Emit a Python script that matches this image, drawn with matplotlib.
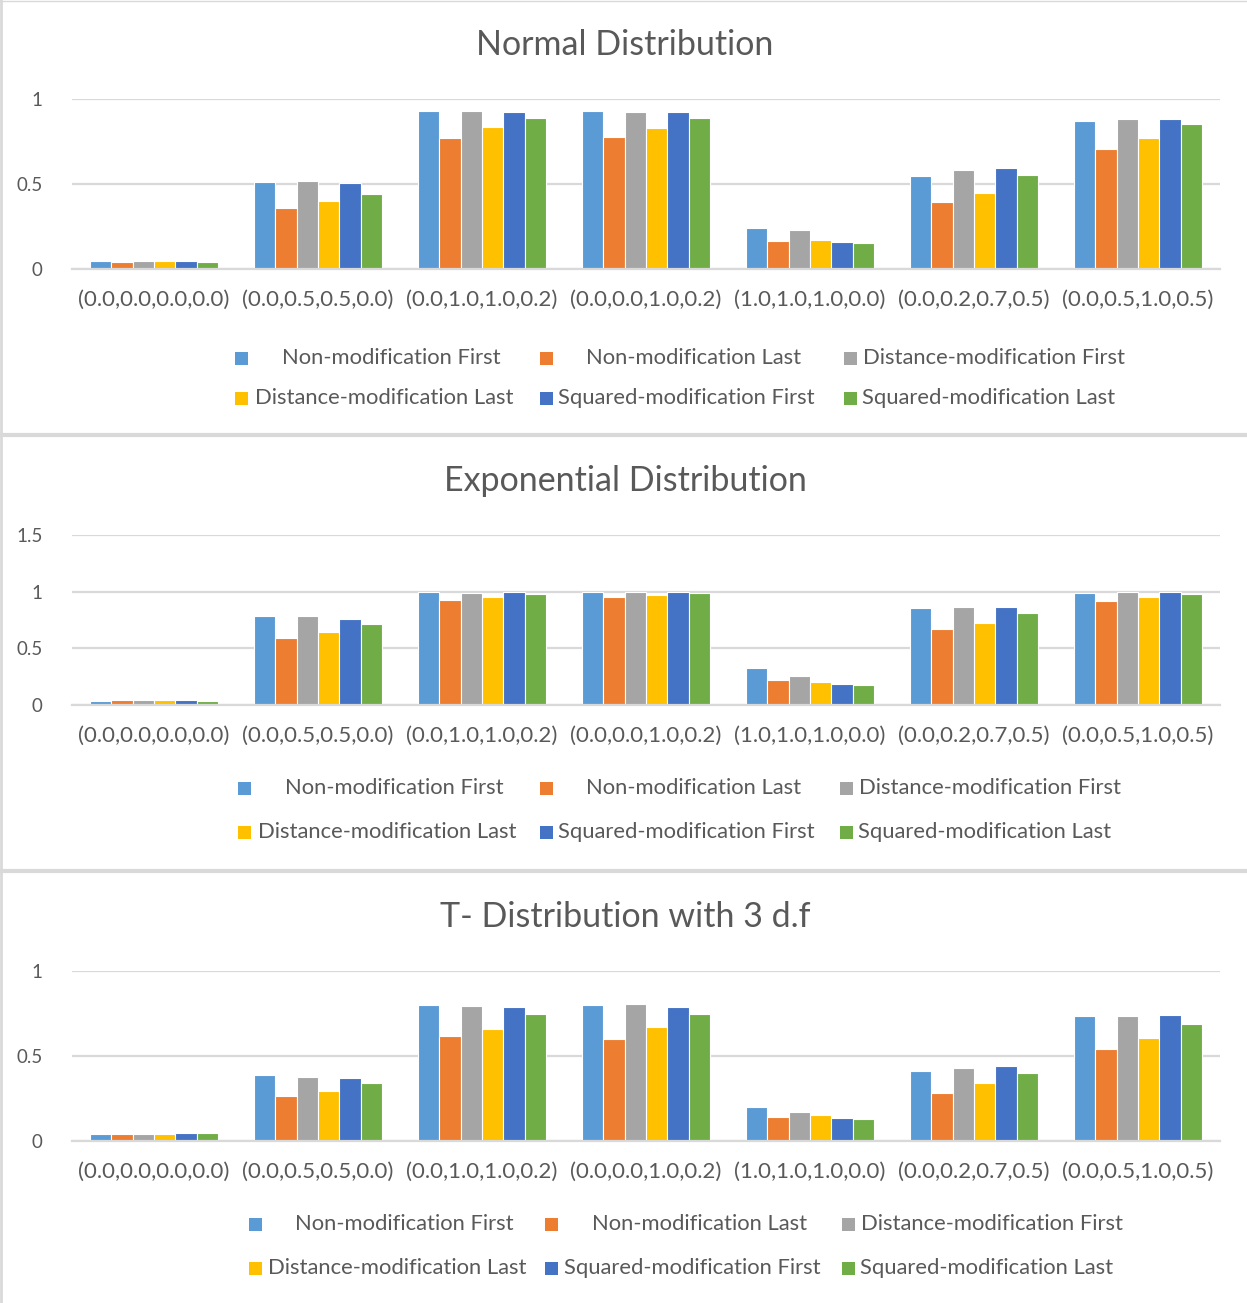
import matplotlib
matplotlib.use("Agg")
import matplotlib.pyplot as plt
from matplotlib.patches import Rectangle
from matplotlib.lines import Line2D
import numpy as np

plt.rcParams['font.family'] = ['Lato', 'DejaVu Sans']

categories = ["(0.0,0.0,0.0,0.0)", "(0.0,0.5,0.5,0.0)", "(0.0,1.0,1.0,0.2)",
              "(0.0,0.0,1.0,0.2)", "(1.0,1.0,1.0,0.0)", "(0.0,0.2,0.7,0.5)",
              "(0.0,0.5,1.0,0.5)"]

series_names = ["Non-modification First", "Non-modification Last",
                "Distance-modification First", "Distance-modification Last",
                "Squared-modification First", "Squared-modification Last"]

# Normal distribution, one list per series
normal_non_first = [0.047, 0.510, 0.928, 0.928, 0.244, 0.545, 0.869]
normal_non_last = [0.043, 0.360, 0.770, 0.775, 0.166, 0.395, 0.705]
normal_dist_first = [0.049, 0.518, 0.926, 0.922, 0.229, 0.582, 0.883]
normal_dist_last = [0.047, 0.400, 0.834, 0.828, 0.174, 0.449, 0.770]
normal_sq_first = [0.049, 0.504, 0.922, 0.920, 0.160, 0.592, 0.879]
normal_sq_last = [0.043, 0.443, 0.887, 0.889, 0.152, 0.553, 0.850]

# Exponential distribution
expo_non_first = [0.041, 0.783, 0.994, 1.000, 0.326, 0.853, 0.988]
expo_non_last = [0.047, 0.592, 0.927, 0.950, 0.223, 0.672, 0.921]
expo_dist_first = [0.047, 0.783, 0.991, 1.000, 0.258, 0.865, 0.997]
expo_dist_last = [0.047, 0.645, 0.953, 0.971, 0.202, 0.721, 0.953]
expo_sq_first = [0.047, 0.760, 0.994, 0.994, 0.188, 0.865, 0.994]
expo_sq_last = [0.041, 0.718, 0.977, 0.991, 0.179, 0.815, 0.977]

# T distribution with 3 degrees of freedom
t3_non_first = [0.045, 0.391, 0.799, 0.801, 0.203, 0.412, 0.732]
t3_non_last = [0.041, 0.268, 0.619, 0.600, 0.141, 0.281, 0.541]
t3_dist_first = [0.045, 0.377, 0.791, 0.805, 0.172, 0.428, 0.736]
t3_dist_last = [0.043, 0.295, 0.658, 0.672, 0.156, 0.342, 0.607]
t3_sq_first = [0.049, 0.371, 0.789, 0.785, 0.135, 0.443, 0.742]
t3_sq_last = [0.051, 0.344, 0.746, 0.744, 0.133, 0.402, 0.689]

titles = ["Normal Distribution", "Exponential Distribution", "T- Distribution with 3 d.f"]
panels = [
    [normal_non_first, normal_non_last, normal_dist_first, normal_dist_last, normal_sq_first, normal_sq_last],
    [expo_non_first, expo_non_last, expo_dist_first, expo_dist_last, expo_sq_first, expo_sq_last],
    [t3_non_first, t3_non_last, t3_dist_first, t3_dist_last, t3_sq_first, t3_sq_last],
]
y_max = [1.0, 1.5, 1.0]
y_ticks = [[0, 0.5, 1], [0, 0.5, 1, 1.5], [0, 0.5, 1]]
y_tick_labels = [["0", "0.5", "1"], ["0", "0.5", "1", "1.5"], ["0", "0.5", "1"]]

colors = ["#5B9BD5", "#ED7D31", "#A5A5A5", "#FFC000", "#4472C4", "#70AD47"]
text_color = "#595959"
grid_color = "#D9D9D9"

W, H = 1247, 1303
fig = plt.figure(figsize=(W / 100, H / 100), dpi=100)
fig.patch.set_facecolor("white")


def fx(px):
    return px / W


def fy(py):
    return 1 - py / H


# pixel layout of each panel: (top of plot area, baseline, title y, category label y, legend rows)
layout = [
    dict(top=98.7, base=269.3, title=45, cat=300,
         rows=[(358, [(241, 282), (546, 586), (850, 863)]),
               (398, [(241, 255), (546, 558), (850, 862)])]),
    dict(top=534.7, base=705.3, title=481, cat=736,
         rows=[(788, [(244, 285), (546, 586), (846, 859)]),
               (832, [(244, 258), (546, 558), (846, 858)])]),
    dict(top=970.7, base=1141.3, title=917, cat=1172,
         rows=[(1224, [(255, 295), (551, 592), (848, 861)]),
               (1268, [(255, 268), (551, 564), (848, 860)])]),
]

x_left, x_right = 72, 1220
n_series = len(series_names)
group_w = 0.78
bar_w = group_w / n_series
x = np.arange(len(categories))

for k, (lay, series, title) in enumerate(zip(layout, panels, titles)):
    ax = fig.add_axes([fx(x_left), fy(lay["base"]), fx(x_right - x_left),
                       (lay["base"] - lay["top"]) / H])
    for j, vals in enumerate(series):
        ax.bar(x + (j - (n_series - 1) / 2) * bar_w, vals, width=bar_w,
               color=colors[j], edgecolor="white", linewidth=0.8, zorder=3)
    ax.set_xlim(-0.5, len(categories) - 0.5)
    ax.set_ylim(0, y_max[k])
    ax.set_yticks(y_ticks[k])
    ax.set_yticklabels(y_tick_labels[k])
    ax.yaxis.grid(True, color=grid_color, linewidth=1.6, zorder=0)
    ax.set_axisbelow(True)
    for s in ["top", "right", "left"]:
        ax.spines[s].set_visible(False)
    ax.spines["bottom"].set_color(grid_color)
    ax.spines["bottom"].set_linewidth(1.6)
    ax.spines["bottom"].set_zorder(4)
    ax.tick_params(axis="y", length=0, pad=21, labelsize=13.5, labelcolor=text_color)
    ax.tick_params(axis="x", length=0, labelbottom=False)
    for lbl in ax.get_yticklabels():
        lbl.set_clip_on(False)
    for i, c in enumerate(categories):
        fig.text(fx(x_left + (i + 0.5) * (x_right - x_left) / len(categories)),
                 fy(lay["cat"]), c, ha="center", va="center",
                 fontsize=16, color=text_color)

    fig.text(fx(625), fy(lay["title"]), title, ha="center", va="center",
             fontsize=24.5, color=text_color)

    # legend laid out in two rows of three entries
    idx = 0
    for row_y, entries in lay["rows"]:
        for mx, tx in entries:
            sq = 13
            fig.patches.append(Rectangle((fx(mx - sq / 2), fy(row_y + sq / 2)),
                                         sq / W, sq / H, transform=fig.transFigure,
                                         facecolor=colors[idx], edgecolor="none"))
            fig.text(fx(tx), fy(row_y), series_names[idx], ha="left", va="center",
                     fontsize=15.8, color=text_color)
            idx += 1

# chart-area borders
border = "#D9D9D9"
fig.add_artist(Line2D([0, 1], [fy(0.5), fy(0.5)], transform=fig.transFigure,
                      color=border, linewidth=1))
fig.add_artist(Line2D([fx(1), fx(1)], [0, 1], transform=fig.transFigure,
                      color=border, linewidth=2))
for sep in [435, 871]:
    fig.add_artist(Line2D([0, 1], [fy(sep), fy(sep)], transform=fig.transFigure,
                          color=border, linewidth=3))

fig.savefig("out.png", dpi=100, facecolor="white")
